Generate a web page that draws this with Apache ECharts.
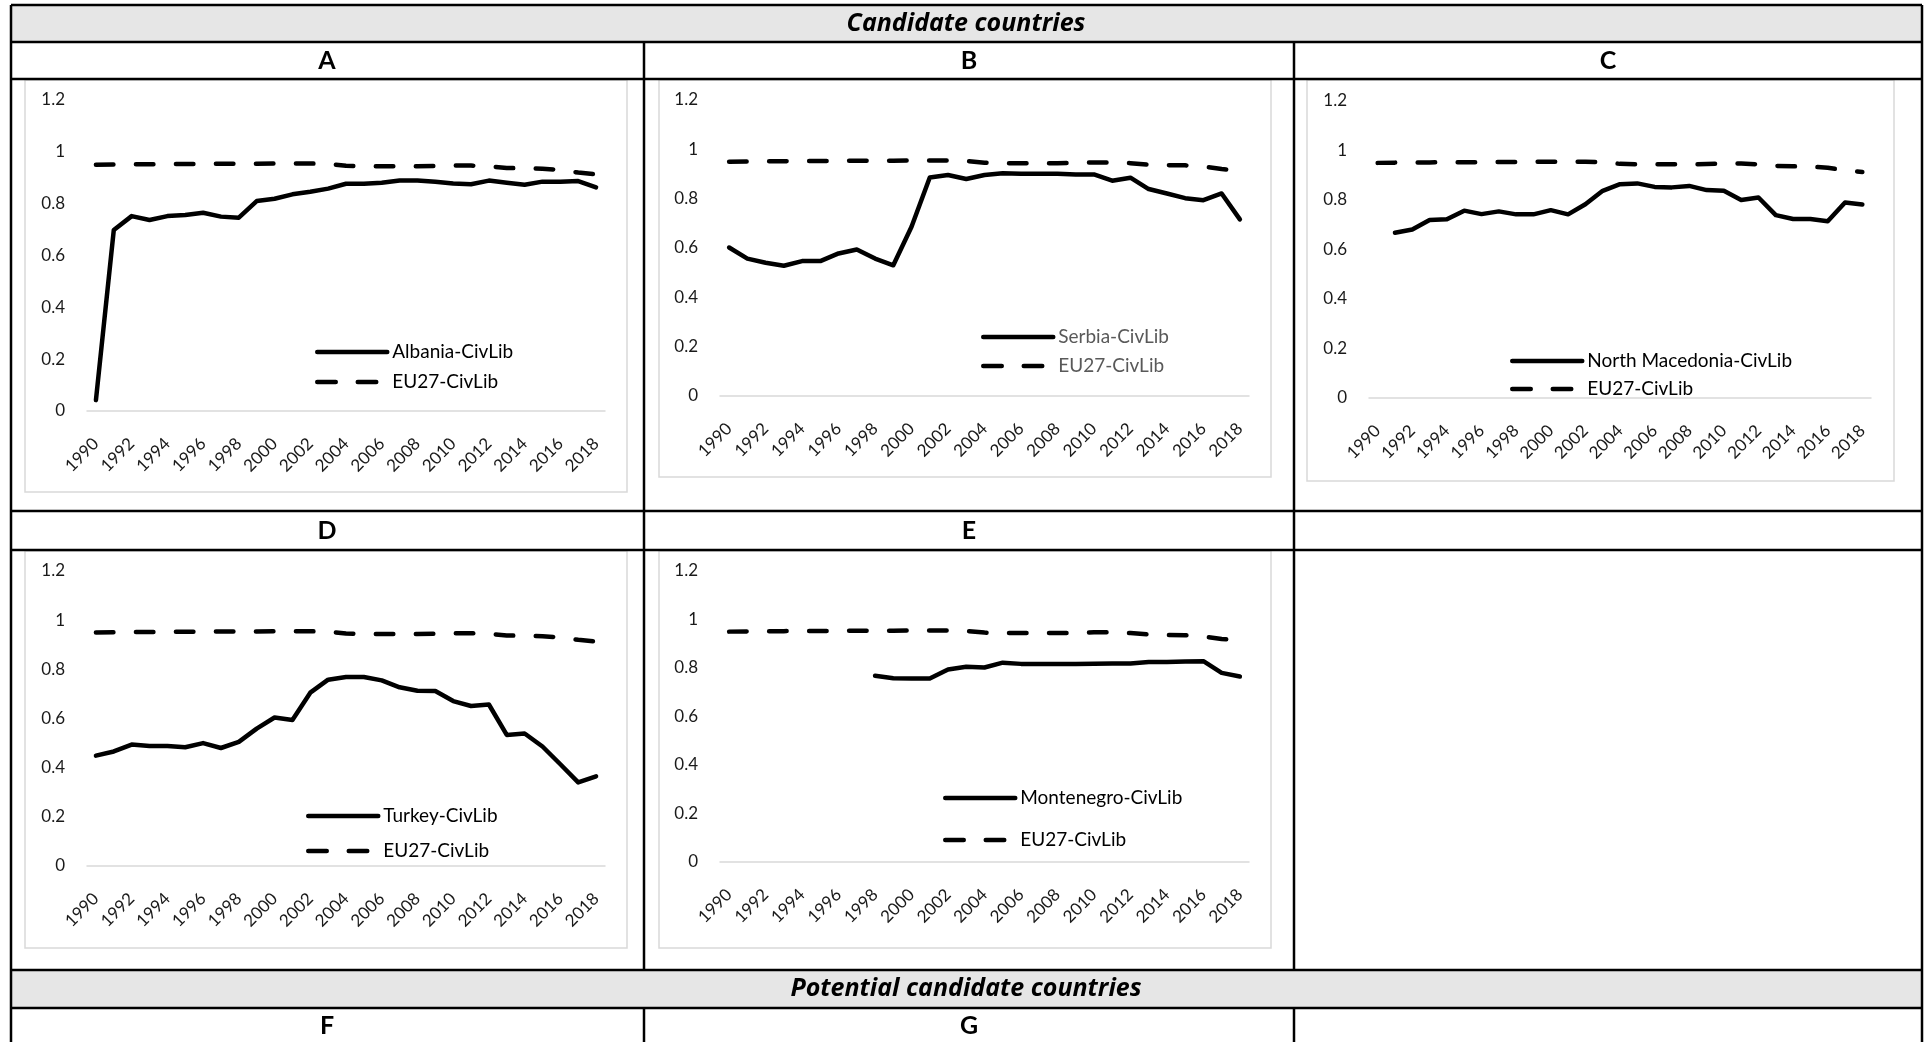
<!DOCTYPE html>
<html><head><meta charset="utf-8">
<script src="https://cdn.jsdelivr.net/npm/echarts@6/dist/echarts.min.js"></script>
<style>html,body{margin:0;padding:0;background:#fff}#main{width:1930px;height:1042px}</style>
</head><body><div id="main"></div>
<script>
const years = ['1990','1991','1992','1993','1994','1995','1996','1997','1998','1999','2000','2001','2002','2003','2004','2005','2006','2007','2008','2009','2010','2011','2012','2013','2014','2015','2016','2017','2018'];
const eu27 = [0.950,0.951,0.952,0.952,0.953,0.953,0.953,0.954,0.954,0.954,0.955,0.955,0.955,0.953,0.946,0.944,0.944,0.944,0.944,0.945,0.947,0.947,0.944,0.938,0.936,0.935,0.930,0.920,0.913];
const albania = [0.042,0.698,0.752,0.737,0.752,0.756,0.765,0.750,0.746,0.810,0.819,0.836,0.846,0.858,0.877,0.877,0.881,0.889,0.889,0.885,0.878,0.875,0.889,0.881,0.873,0.885,0.885,0.887,0.863];
const serbia = [0.602,0.557,0.540,0.528,0.547,0.547,0.578,0.594,0.557,0.530,0.686,0.886,0.896,0.880,0.896,0.903,0.901,0.901,0.901,0.898,0.898,0.873,0.885,0.839,0.821,0.802,0.794,0.821,0.716];
const northMacedonia = [null,0.668,0.681,0.719,0.722,0.757,0.743,0.754,0.742,0.742,0.759,0.742,0.783,0.837,0.864,0.867,0.853,0.851,0.857,0.840,0.837,0.800,0.810,0.739,0.723,0.723,0.714,0.790,0.782];
const turkey = [0.449,0.466,0.494,0.488,0.488,0.483,0.500,0.480,0.505,0.559,0.604,0.594,0.705,0.758,0.769,0.769,0.755,0.727,0.713,0.712,0.671,0.651,0.657,0.533,0.539,0.486,0.414,0.340,0.365];
const montenegro = [null,null,null,null,null,null,null,null,0.768,0.758,0.757,0.757,0.794,0.805,0.802,0.822,0.817,0.817,0.817,0.817,0.818,0.819,0.819,0.825,0.825,0.827,0.828,0.780,0.765];
const euName = 'EU27-CivLib';
const sectionTitles = ['Candidate countries', 'Potential candidate countries'];
const panelLetters = ['A','B','C','D','E','F','G'];

const FF = 'Lato, "Open Sans", sans-serif';
const TF = '"Open Sans", Lato, sans-serif';
const LW = 4.5;
const DASH = [17.5, 22.5];
const panels = [
  {country:'Albania-CivLib', values:albania, g:[87,100,605,411], lg:[315,352,30,'#000'], box:[25,80,627,492]},
  {country:'Serbia-CivLib', values:serbia, g:[720,100,1249,396], lg:[981,337,29,'#595959'], box:[659,80,1271,477]},
  {country:'North Macedonia-CivLib', values:northMacedonia, g:[1369,101,1871,398], lg:[1510,361,28,'#000'], box:[1307,80,1894,481]},
  {country:'Turkey-CivLib', values:turkey, g:[87,571,605,866], lg:[306,816,35,'#000'], box:[25,551,627,948]},
  {country:'Montenegro-CivLib', values:montenegro, g:[720,571,1249,862], lg:[943,798,42,'#000'], box:[659,551,1271,948]}
];

const grid=[], xAxis=[], yAxis=[], series=[], legend=[], graphic=[];
panels.forEach((p,i)=>{
  grid.push({left:p.g[0], top:p.g[1], width:p.g[2]-p.g[0], height:p.g[3]-p.g[1], containLabel:false, outerBoundsMode:'none'});
  xAxis.push({type:'category', gridIndex:i, data:years, boundaryGap:true,
    axisLine:{lineStyle:{color:'#d9d9d9', width:1.5}}, axisTick:{show:false}, splitLine:{show:false},
    axisLabel:{rotate:45, interval:1, margin:30, fontSize:17, color:'#1a1a1a', fontFamily:FF}});
  yAxis.push({type:'value', gridIndex:i, min:0, max:1.2, interval:0.2,
    axisLine:{show:false}, axisTick:{show:false}, splitLine:{show:false},
    axisLabel:{fontSize:17, margin:22, color:'#1a1a1a', fontFamily:FF}});
  series.push({type:'line', name:p.country, xAxisIndex:i, yAxisIndex:i, data:p.values, symbol:'none', silent:true,
    itemStyle:{color:'#000'}, lineStyle:{color:'#000', width:LW, cap:'round', join:'round'}, z:3});
  series.push({type:'line', name:euName, xAxisIndex:i, yAxisIndex:i, data:eu27, symbol:'none', silent:true,
    itemStyle:{color:'#000'}, lineStyle:{color:'#000', width:LW, type:DASH, cap:'round', join:'round'}, z:3});
  legend.push({orient:'vertical', left:p.lg[0], top:p.lg[1]-10, padding:0, itemWidth:70, itemHeight:14,
    itemGap:p.lg[2]-20, selectedMode:false,
    data:[
      {name:p.country, itemStyle:{opacity:0}, lineStyle:{color:'#000', width:4.5, type:'solid', cap:'round'}},
      {name:euName, itemStyle:{opacity:0}, lineStyle:{color:'#000', width:4.5, type:[18.5,22], cap:'round'}}
    ],
    textStyle:{fontSize:19, lineHeight:20, color:p.lg[3], fontFamily:FF}});
  graphic.push({type:'rect', shape:{x:p.box[0], y:p.box[1], width:p.box[2]-p.box[0], height:p.box[3]-p.box[1]},
    style:{fill:'#fff', stroke:'#d9d9d9', lineWidth:1.5}, z:0, silent:true});
});

const L=11, R=1922;
graphic.push({type:'rect', shape:{x:L, y:5, width:R-L, height:37}, style:{fill:'#e6e6e6'}, z:0, silent:true});
graphic.push({type:'rect', shape:{x:L, y:970, width:R-L, height:38}, style:{fill:'#e6e6e6'}, z:0, silent:true});
[5,42,79,511,550,970,1008].forEach(y=>graphic.push({type:'line', shape:{x1:L, y1:y, x2:R, y2:y}, style:{stroke:'#000', lineWidth:2.5}, z:10, silent:true}));
[L,R].forEach(x=>graphic.push({type:'line', shape:{x1:x, y1:5, x2:x, y2:1042}, style:{stroke:'#000', lineWidth:2.5}, z:10, silent:true}));
[644,1294].forEach(x=>{
  graphic.push({type:'line', shape:{x1:x, y1:42, x2:x, y2:970}, style:{stroke:'#000', lineWidth:2.5}, z:10, silent:true});
  graphic.push({type:'line', shape:{x1:x, y1:1008, x2:x, y2:1042}, style:{stroke:'#000', lineWidth:2.5}, z:10, silent:true});
});
function txt(t,x,y,font){graphic.push({type:'text', x:x, y:y, z:11, silent:true, style:{text:t, align:'center', verticalAlign:'middle', fill:'#000', font:font}});}
txt(sectionTitles[0], 966, 24, 'italic bold 25px '+TF);
txt(sectionTitles[1], 966, 989, 'italic bold 25px '+TF);
const colC=[327,969,1608];
txt(panelLetters[0], colC[0], 61, 'bold 25px '+FF);
txt(panelLetters[1], colC[1], 61, 'bold 25px '+FF);
txt(panelLetters[2], colC[2], 61, 'bold 25px '+FF);
txt(panelLetters[3], colC[0], 531, 'bold 25px '+FF);
txt(panelLetters[4], colC[1], 531, 'bold 25px '+FF);
txt(panelLetters[5], colC[0], 1026, 'bold 25px '+FF);
txt(panelLetters[6], colC[1], 1026, 'bold 25px '+FF);

const chart = echarts.init(document.getElementById('main'), null, {renderer:'canvas'});
chart.setOption({animation:false, backgroundColor:'#fff', grid, xAxis, yAxis, series, legend, graphic});
</script></body></html>
